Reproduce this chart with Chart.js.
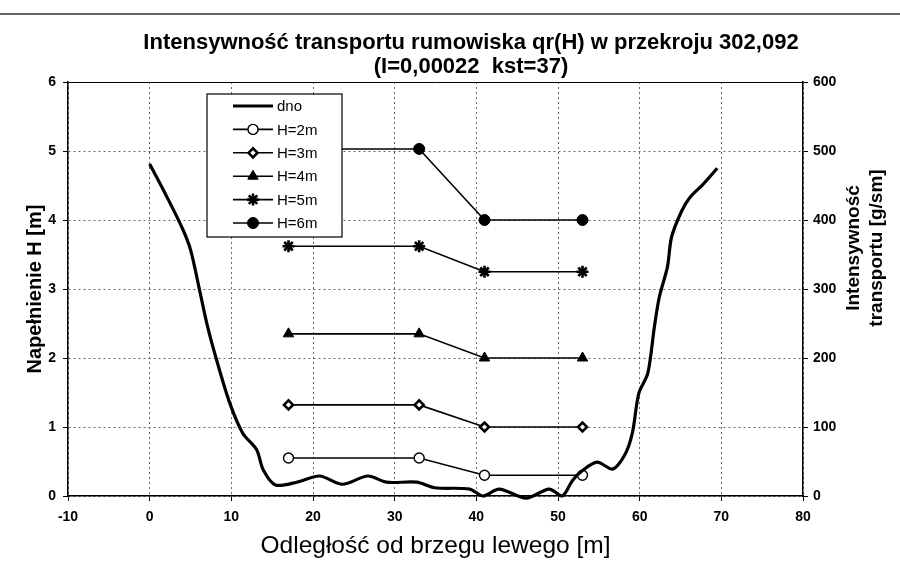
<!DOCTYPE html>
<html>
<head>
<meta charset="utf-8">
<script src="https://cdn.jsdelivr.net/npm/chart.js@4.4.1/dist/chart.umd.min.js"></script>
<style>
  html, body { margin: 0; padding: 0; background: #fff; }
  #wrap { width: 900px; height: 569px; position: relative; }
</style>
</head>
<body>
<div id="wrap"><canvas id="chart" width="900" height="569"></canvas></div>
<script>
const FONT = '"Liberation Sans", Arial, sans-serif';

// river bed profile (dno) - distance [m], depth [m]
const bedX = [0, 2.0, 4.0, 5.0, 6.1, 7.1, 8.2, 9.8, 11.4, 13.1, 13.9, 15.4, 18.0, 20.8, 23.6, 26.7, 29.0, 32.7,
  34.9, 39.2, 40.8, 42.8, 46.1, 48.9, 50.5, 51.8, 53.0, 54.8, 56.7, 58.2, 59.1, 59.9, 61.0, 61.8, 62.4, 63.4,
  63.9, 65.1, 66.1, 67.7, 69.5];
const bedH = [4.81, 4.36, 3.88, 3.57, 2.99, 2.45, 1.97, 1.35, 0.91, 0.67, 0.38, 0.16, 0.2, 0.29, 0.17, 0.29, 0.2, 0.2,
  0.12, 0.1, 0.0, 0.1, -0.03, 0.1, 0.0, 0.23, 0.37, 0.49, 0.39, 0.6, 0.91, 1.49, 1.78, 2.45, 2.88, 3.32,
  3.75, 4.12, 4.32, 4.51, 4.75];

// transport intensity [g/sm] at the verticals, one array per water level
const verticals = [17, 33, 41, 53];
const qH2 = [55, 55, 30, 30];
const qH3 = [132, 132, 100, 100];
const qH4 = [235, 235, 200, 200];
const qH5 = [362, 362, 325, 325];
const qH6 = [503, 503, 400, 400];
const levelLabels = ['H=2m', 'H=3m', 'H=4m', 'H=5m', 'H=6m'];

const titleLines = ['Intensywność transportu rumowiska qr(H) w przekroju 302,092', '(I=0,00022  kst=37)'];
const rightTitle = ['Intensywność', 'transportu [g/sm]'];

const pts = arr => verticals.map((x, i) => ({x: x, y: arr[i]}));

function levelSet(label, arr, style, radius, fill, bw) {
  return {
    label: label,
    data: pts(arr),
    yAxisID: 'y2',
    borderColor: '#000',
    borderWidth: 1.6,
    pointStyle: style,
    pointRadius: radius,
    pointBackgroundColor: fill,
    pointBorderColor: '#000',
    pointBorderWidth: bw,
    tension: 0
  };
}

const datasets = [
  {
    label: 'dno',
    data: bedX.map((x, i) => ({x: x, y: bedH[i]})),
    yAxisID: 'y',
    borderColor: '#000',
    borderWidth: 3.2,
    pointRadius: 0,
    tension: 0.3,
    clip: 8
  },
  levelSet(levelLabels[0], qH2, 'circle', 5, '#fff', 1.4),
  levelSet(levelLabels[1], qH3, 'rectRot', 4.5, '#fff', 2.6),
  levelSet(levelLabels[2], qH4, 'triangle', 6, '#000', 1),
  levelSet(levelLabels[3], qH5, 'star', 6, '#000', 2.6),
  levelSet(levelLabels[4], qH6, 'circle', 5.5, '#000', 1)
];

function marker(ctx, ds, x, y) {
  ctx.save();
  ctx.fillStyle = ds.pointBackgroundColor;
  ctx.strokeStyle = ds.pointBorderColor;
  ctx.lineWidth = ds.pointBorderWidth;
  if (Chart.helpers && Chart.helpers.drawPoint) {
    Chart.helpers.drawPoint(ctx, {pointStyle: ds.pointStyle, radius: ds.pointRadius, rotation: 0, borderWidth: ds.pointBorderWidth}, x, y);
  }
  ctx.restore();
}

// title, right axis caption, legend box and scan line
const extras = {
  id: 'extras',
  afterDraw(chart) {
    const ctx = chart.ctx;
    ctx.save();
    ctx.strokeStyle = '#333';
    ctx.lineWidth = 1.5;
    ctx.beginPath(); ctx.moveTo(0, 14); ctx.lineTo(900, 14); ctx.stroke();

    ctx.fillStyle = '#000';
    ctx.textAlign = 'center';
    ctx.textBaseline = 'middle';
    ctx.font = 'bold 22px ' + FONT;
    ctx.fillText(titleLines[0], 471, 43);
    ctx.fillText(titleLines[1], 471, 67);

    ctx.font = 'bold 19px ' + FONT;
    [854, 877].forEach((x, i) => {
      ctx.save();
      ctx.translate(x, 248);
      ctx.rotate(-Math.PI / 2);
      ctx.fillText(rightTitle[i], 0, 0);
      ctx.restore();
    });

    // legend
    const lx = 207, ly = 94, lw = 135, lh = 143;
    ctx.fillStyle = '#fff';
    ctx.fillRect(lx, ly, lw, lh);
    ctx.strokeStyle = '#000';
    ctx.lineWidth = 1.2;
    ctx.strokeRect(lx, ly, lw, lh);
    ctx.textAlign = 'left';
    ctx.font = '15px ' + FONT;
    chart.data.datasets.forEach((ds, i) => {
      const y = ly + 12 + i * 23.4;
      ctx.strokeStyle = '#000';
      ctx.lineWidth = ds.borderWidth;
      ctx.beginPath(); ctx.moveTo(lx + 26, y); ctx.lineTo(lx + 66, y); ctx.stroke();
      if (ds.pointRadius) marker(ctx, ds, lx + 46, y);
      ctx.fillStyle = '#000';
      ctx.fillText(ds.label, lx + 70, y + 1);
    });
    ctx.restore();
  }
};

const tickFont = {family: FONT, size: 14, weight: 'bold'};

new Chart(document.getElementById('chart'), {
  type: 'line',
  data: {datasets: datasets},
  plugins: [extras],
  options: {
    responsive: false,
    animation: false,
    layout: {padding: {top: 82, left: 0, right: 0, bottom: 0}},
    plugins: {legend: {display: false}, tooltip: {enabled: false}, title: {display: false}},
    scales: {
      x: {
        type: 'linear',
        min: -10, max: 80,
        ticks: {stepSize: 10, font: tickFont, color: '#000', padding: 8},
        grid: {color: '#666', lineWidth: 1, tickLength: 5, tickColor: '#000'},
        border: {color: '#000', width: 1.5, dash: [2, 3]},
        title: {display: true, text: 'Odległość od brzegu lewego [m]', color: '#000',
          font: {family: FONT, size: 24.5}, padding: {top: 0, bottom: 8}},
        afterFit: s => { s.height = 73; }
      },
      y: {
        position: 'left',
        min: 0, max: 6,
        ticks: {stepSize: 1, font: tickFont, color: '#000', padding: 7},
        grid: {color: ctx => (ctx.tick && ctx.tick.value === 6) ? '#000' : '#666', lineWidth: 1, tickLength: 5, tickColor: '#000'},
        border: {color: '#000', width: 1.5, dash: ctx => (ctx.tick && ctx.tick.value === 6) ? [] : [2, 3]},
        title: {display: true, text: 'Napełnienie H [m]', color: '#000',
          font: {family: FONT, size: 20, weight: 'bold'}, padding: {top: 23, bottom: 0}},
        afterFit: s => { s.width = 68; }
      },
      y2: {
        position: 'right',
        min: 0, max: 600,
        ticks: {stepSize: 100, font: tickFont, color: '#000', padding: 5},
        grid: {drawOnChartArea: false, tickLength: 5, tickColor: '#000'},
        border: {color: '#000', width: 1.5},
        afterFit: s => { s.width = 97; }
      }
    }
  }
});
</script>
</body>
</html>
